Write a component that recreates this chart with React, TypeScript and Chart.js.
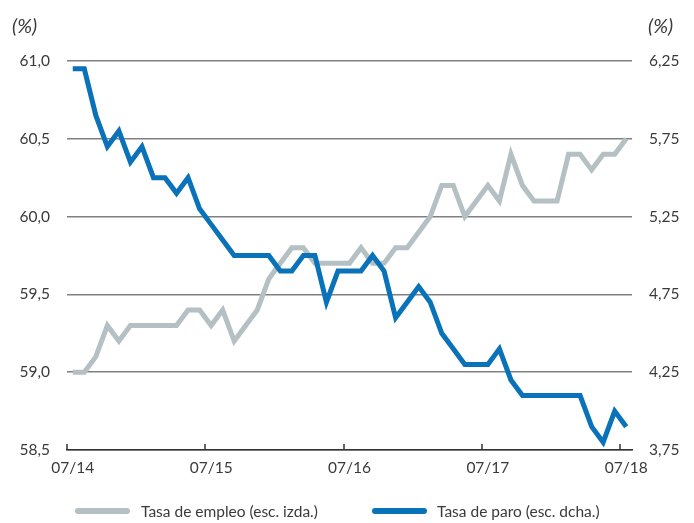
import React, { useEffect, useRef } from 'react';
import { Chart, registerables } from 'chart.js';

Chart.register(...registerables);

// ---- Data (monthly, 07/2014 – 07/2018) ----
const employmentRate = [
  59.0, 59.0, 59.1, 59.3, 59.2, 59.3, 59.3, 59.3, 59.3, 59.3,
  59.4, 59.4, 59.3, 59.4, 59.2, 59.3, 59.4, 59.6, 59.7, 59.8,
  59.8, 59.7, 59.7, 59.7, 59.7, 59.8, 59.7, 59.7, 59.8, 59.8,
  59.9, 60.0, 60.2, 60.2, 60.0, 60.1, 60.2, 60.1, 60.4, 60.2,
  60.1, 60.1, 60.1, 60.4, 60.4, 60.3, 60.4, 60.4, 60.5,
];
const unemploymentRate = [
  6.2, 6.2, 5.9, 5.7, 5.8, 5.6, 5.7, 5.5, 5.5, 5.4,
  5.5, 5.3, 5.2, 5.1, 5.0, 5.0, 5.0, 5.0, 4.9, 4.9,
  5.0, 5.0, 4.7, 4.9, 4.9, 4.9, 5.0, 4.9, 4.6, 4.7,
  4.8, 4.7, 4.5, 4.4, 4.3, 4.3, 4.3, 4.4, 4.2, 4.1,
  4.1, 4.1, 4.1, 4.1, 4.1, 3.9, 3.8, 4.0, 3.9,
];
const xTickLabels = ['07/14', '07/15', '07/16', '07/17', '07/18'];
const xTickMonths = [0, 12, 24, 36, 48];
const seriesNames = ['Tasa de empleo (esc. izda.)', 'Tasa de paro (esc. dcha.)'];
const unitLabel = '(%)';

const GREY = '#b4c0c3';
const BLUE = '#0a72b8';
const TEXT = '#3a3a3a';
const FONT = 'Lato, "Noto Sans", sans-serif';

const decorPlugin = {
  id: 'decor',
  afterDraw(chart: any) {
    const { ctx, chartArea, scales } = chart;
    const xs = scales.x;
    ctx.save();
    ctx.strokeStyle = '#333333';
    ctx.lineWidth = 1.5;
    xTickMonths.forEach((m) => {
      const px = Math.round(xs.getPixelForValue(m));
      ctx.beginPath();
      ctx.moveTo(px, chartArea.bottom);
      ctx.lineTo(px, chartArea.bottom - 6);
      ctx.stroke();
    });
    ctx.fillStyle = TEXT;
    ctx.font = `italic 20px ${FONT}`;
    ctx.textBaseline = 'middle';
    ctx.textAlign = 'left';
    ctx.fillText(unitLabel, 12, 27);
    ctx.fillText(unitLabel, scales.y2.left + 16, 27);
    ctx.restore();
  },
};

export default function App() {
  const canvasRef = useRef<HTMLCanvasElement | null>(null);

  useEffect(() => {
    document.body.style.margin = '0';
    const canvas = canvasRef.current;
    if (!canvas) return;
    const tickFont = { family: FONT, size: 15.5 };
    const chart = new Chart(canvas, {
      type: 'line',
      data: {
        datasets: [
          {
            label: seriesNames[0],
            data: employmentRate.map((v, i) => ({ x: i + 0.5, y: v })),
            borderColor: GREY,
            backgroundColor: GREY,
            borderWidth: 5,
            pointRadius: 0,
            tension: 0,
            yAxisID: 'y',
            order: 1,
          },
          {
            label: seriesNames[1],
            data: unemploymentRate.map((v, i) => ({ x: i + 0.5, y: v })),
            borderColor: BLUE,
            backgroundColor: BLUE,
            borderWidth: 5,
            pointRadius: 0,
            tension: 0,
            yAxisID: 'y2',
            order: 0,
          },
        ],
      },
      options: {
        responsive: false,
        animation: false,
        events: [],
        layout: { padding: { top: 61, bottom: 43, left: 0, right: 0 } },
        plugins: {
          legend: { display: false },
          tooltip: { enabled: false },
        },
        scales: {
          x: {
            type: 'linear',
            min: 0,
            max: 49,
            afterBuildTicks: (s: any) => {
              s.ticks = xTickMonths.map((v) => ({ value: v + 0.5 }));
            },
            ticks: {
              autoSkip: false,
              maxRotation: 0,
              padding: 9,
              color: TEXT,
              font: tickFont,
              callback: (_v: any, i: number) => xTickLabels[i],
            },
            grid: { display: false, drawTicks: false },
            border: { display: true, color: '#333333', width: 1.5 },
            afterFit: (s: any) => {
              s.height = 30;
            },
          },
          y: {
            position: 'left',
            min: 58.5,
            max: 61,
            ticks: {
              stepSize: 0.5,
              padding: 17,
              color: TEXT,
              font: tickFont,
              callback: (v: any) => Number(v).toFixed(1).replace('.', ','),
            },
            grid: { color: '#808080', lineWidth: 1.5, drawTicks: false },
            border: { display: false },
            afterFit: (s: any) => {
              s.width = 67;
            },
          },
          y2: {
            position: 'right',
            min: 3.75,
            max: 6.25,
            ticks: {
              stepSize: 0.5,
              padding: 17,
              color: TEXT,
              font: tickFont,
              callback: (v: any) => Number(v).toFixed(2).replace('.', ','),
            },
            grid: { display: false, drawTicks: false },
            border: { display: false },
            afterFit: (s: any) => {
              s.width = 62;
            },
          },
        },
      },
      plugins: [decorPlugin],
    } as any);
    return () => chart.destroy();
  }, []);

  const legendText: React.CSSProperties = {
    position: 'absolute',
    top: 501,
    fontFamily: FONT,
    fontSize: 15.5,
    color: TEXT,
    lineHeight: '20px',
    whiteSpace: 'nowrap',
  };
  const swatch = (color: string, left: number): React.CSSProperties => ({
    position: 'absolute',
    left,
    top: 508,
    width: 55,
    height: 6,
    borderRadius: 3,
    background: color,
  });

  return (
    <div style={{ position: 'relative', width: 694, height: 523 }}>
      <canvas ref={canvasRef} width={694} height={523} style={{ display: 'block' }} />
      <div style={swatch(GREY, 75)} />
      <div style={{ ...legendText, left: 141 }}>{seriesNames[0]}</div>
      <div style={swatch(BLUE, 372)} />
      <div style={{ ...legendText, left: 437 }}>{seriesNames[1]}</div>
    </div>
  );
}
